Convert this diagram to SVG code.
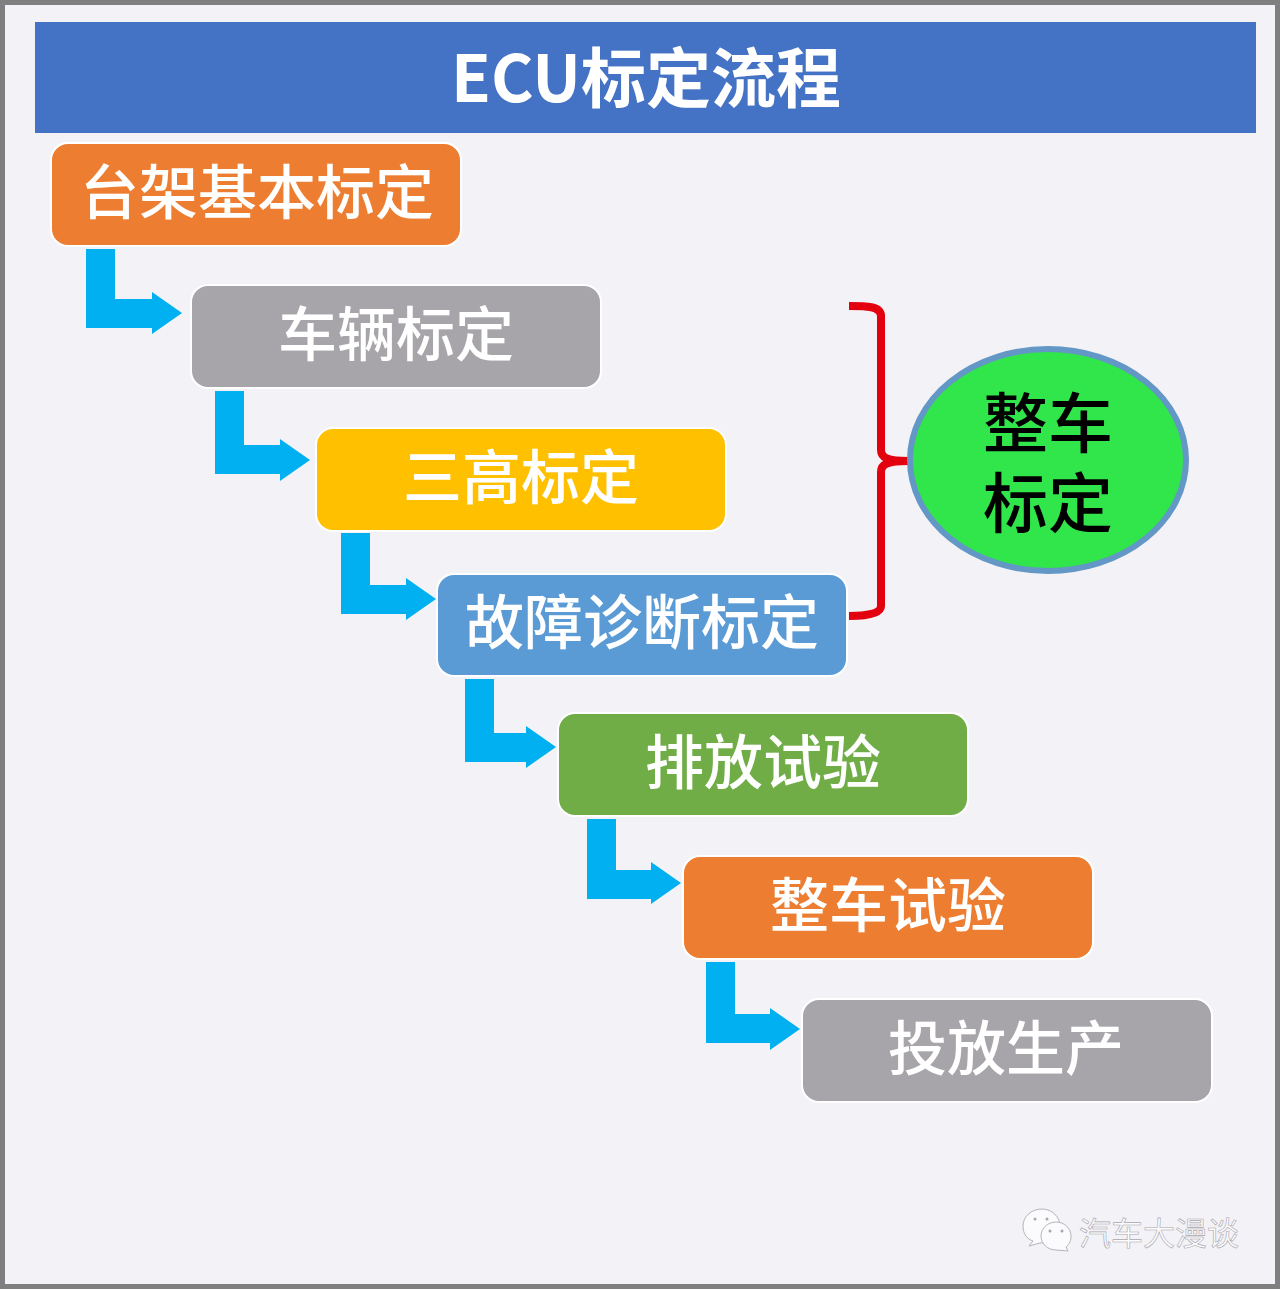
<svg xmlns="http://www.w3.org/2000/svg" width="1280" height="1289" viewBox="0 0 1280 1289">
<style>
.bg{fill:#f3f2f6;stroke:#7f7f7f;stroke-width:5}
.box{stroke:#fff;stroke-width:2}
.t{font-family:"Noto Sans CJK SC","Noto Sans",sans-serif;font-size:59px;font-weight:500;fill:#fff;text-anchor:middle}
.arrow{fill:#00b0f0}
.k{fill:#000}
.wm{fill:#fbfbfd;stroke:#b5b3ba;stroke-width:1}
.eye{fill:#a9a7ae}
</style>
<rect class="bg" x="2.500" y="2.500" width="1275" height="1284"/>
<g id="title">
<rect x="35" y="22" width="1221" height="111" fill="#4472c4"/>
<text class="t" x="646" y="102" style="font-size:65px;font-weight:700">ECU标定流程</text>
</g>
<g id="connectors">
<path class="arrow" d="M86 249H115V299H152V292L182 313L152 334V328H86Z"/>
<path class="arrow" d="M215 391H244V445H280V439L310 460L280 481V474H215Z"/>
<path class="arrow" d="M341 533H370V585H406V578L436 599L406 620V614H341Z"/>
<path class="arrow" d="M465 679H494V733H526V726L556 747L526 768V762H465Z"/>
<path class="arrow" d="M587 819H616V870H651V862L681 883L651 904V899H587Z"/>
<path class="arrow" d="M706 962H735V1014H770V1008L800 1029L770 1050V1043H706Z"/>
<path d="M849 306C866 306 881 306 881 316V450C881 458 888 461 908 461C888 461 881 464 881 472V606C881 614 866 616 849 616" fill="none" stroke="#e3000f" stroke-width="8"/>
</g>
<g id="n1"><rect class="box" x="51" y="143" width="410" height="103" rx="17" fill="#ed7d31"/><text class="t" x="257" y="214">台架基本标定</text></g>
<g id="n2"><rect class="box" x="191" y="285" width="410" height="103" rx="17" fill="#a7a5a9"/><text class="t" x="396" y="356">车辆标定</text></g>
<g id="n3"><rect class="box" x="316" y="428" width="410" height="103" rx="17" fill="#ffc000"/><text class="t" x="521" y="499">三高标定</text></g>
<g id="n4"><rect class="box" x="437" y="574" width="410" height="102" rx="17" fill="#5b9bd5"/><text class="t" x="642" y="644">故障诊断标定</text></g>
<g id="n5"><rect class="box" x="558" y="713" width="410" height="103" rx="17" fill="#70ad47"/><text class="t" x="763" y="784">排放试验</text></g>
<g id="n6"><rect class="box" x="683" y="856" width="410" height="103" rx="17" fill="#ed7d31"/><text class="t" x="888" y="927">整车试验</text></g>
<g id="n7"><rect class="box" x="802" y="999" width="410" height="103" rx="17" fill="#a7a5a9"/><text class="t" x="1006" y="1070">投放生产</text></g>
<g id="summary">
<ellipse cx="1048" cy="460" rx="138" ry="111" fill="#30e64a" stroke="#6397c5" stroke-width="6"/>
<text class="t k" style="font-size:65px"><tspan x="1048" y="447">整车</tspan><tspan x="1048" y="527">标定</tspan></text>
</g>
<g id="watermark">
<path class="wm" d="M1042 1209C1031 1209 1023 1217 1023 1226C1023 1234 1027 1239 1033 1241L1029 1246L1040 1243C1050 1243 1060 1236 1060 1226C1060 1217 1052 1209 1042 1209Z"/>
<path class="wm" d="M1056 1222C1047 1222 1041 1229 1041 1236C1041 1244 1048 1250 1056 1250L1068 1251L1066 1247C1070 1244 1071 1240 1071 1236C1071 1229 1065 1222 1056 1222Z"/>
<circle class="eye" cx="1035" cy="1219" r="1.500"/><circle class="eye" cx="1047" cy="1219" r="1.500"/><circle class="eye" cx="1050" cy="1231" r="1.500"/><circle class="eye" cx="1062" cy="1231" r="1.500"/>
<text x="1159" y="1245" font-family="Noto Sans CJK SC,sans-serif" font-size="32" fill="#fbfbfd" stroke="#a9a7ae" stroke-width="0.600" text-anchor="middle">汽车大漫谈</text>
</g>
</svg>
